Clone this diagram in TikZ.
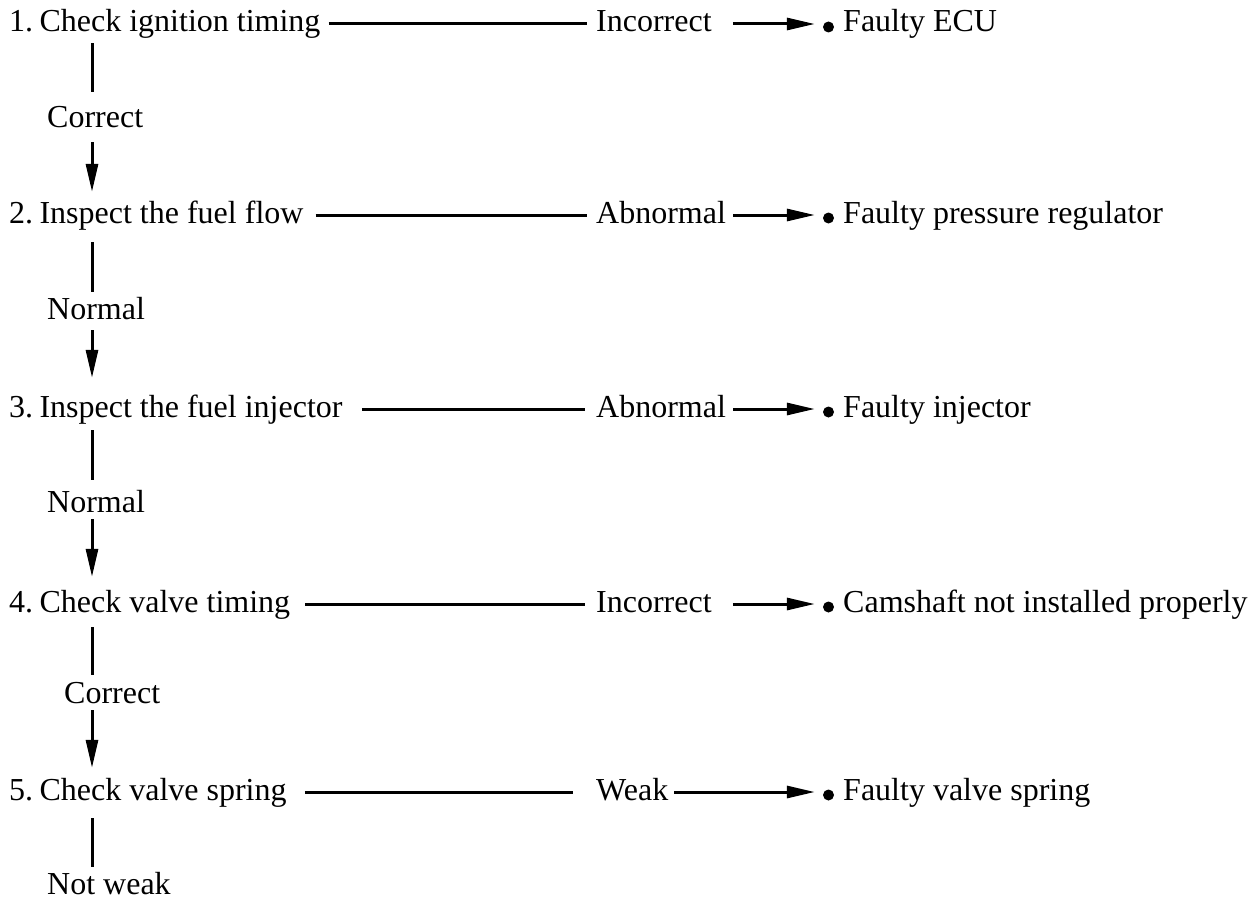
\documentclass[tikz,border=0pt]{standalone}
\usepackage{fontspec}
\setmainfont{Liberation Serif}
\usetikzlibrary{arrows.meta}
\begin{document}
\begin{tikzpicture}[x=1pt,y=-1pt,
  txt/.style={font=\fontsize{32}{38}\selectfont, inner sep=0pt, anchor=base west, text height=23pt, text depth=7pt},
  conn/.style={line width=3pt},
  arr/.style={line width=3pt, -{Triangle[length=28pt,width=12pt]}},
  bul/.style={circle, fill=black, inner sep=0pt, minimum size=11pt},
]
\useasboundingbox (0,0) rectangle (1257,899);
\coordinate (col) at (92,0);

% row 1
\node[txt] (s1) at (9,32) {1.\hspace{0.2em}Check ignition timing};
\node[txt] (l1) at (596,32) {Incorrect};
\node[bul] (d1) at (828.5,27) {};
\node[txt] (r1) at (843,32) {Faulty ECU};
% row 2
\node[txt] (s2) at (9,223) {2.\hspace{0.2em}Inspect the fuel flow};
\node[txt] (l2) at (596,223) {Abnormal};
\node[bul] (d2) at (828.5,218) {};
\node[txt] (r2) at (843,223) {Faulty pressure regulator};
% row 3
\node[txt] (s3) at (9,417) {3.\hspace{0.2em}Inspect the fuel injector};
\node[txt] (l3) at (596,417) {Abnormal};
\node[bul] (d3) at (828.5,412) {};
\node[txt] (r3) at (843,417) {Faulty injector};
% row 4
\node[txt] (s4) at (9,612) {4.\hspace{0.2em}Check valve timing};
\node[txt] (l4) at (596,612) {Incorrect};
\node[bul] (d4) at (828.5,607) {};
\node[txt] (r4) at (843,612) {Camshaft not installed properly};
% row 5
\node[txt] (s5) at (9,800) {5.\hspace{0.2em}Check valve spring};
\node[txt] (l5) at (596,800) {Weak};
\node[bul] (d5) at (828.5,795) {};
\node[txt] (r5) at (843,800) {Faulty valve spring};

% vertical labels
\node[txt] (c1) at (47,127) {Correct};
\node[txt] (c2) at (47,319) {Normal};
\node[txt] (c3) at (47,512) {Normal};
\node[txt] (c4) at (64,703) {Correct};
\node[txt, text depth=1pt] (c5) at (47,894) {Not weak};

% horizontal connectors
\draw[conn, shorten <=8pt, shorten >=9pt] (s1.east) -- (l1.west);
\draw[arr, shorten <=21pt, shorten >=8pt] (l1.east) -- (d1.west |- l1.east);
\draw[conn, shorten <=12pt, shorten >=9pt] (s2.east) -- (l2.west);
\draw[arr, shorten <=7pt, shorten >=8pt] (l2.east) -- (d2.west |- l2.east);
\draw[conn, shorten <=19pt, shorten >=11pt] (s3.east) -- (l3.west);
\draw[arr, shorten <=7pt, shorten >=8pt] (l3.east) -- (d3.west |- l3.east);
\draw[conn, shorten <=15pt, shorten >=11pt] (s4.east) -- (l4.west);
\draw[arr, shorten <=21pt, shorten >=8pt] (l4.east) -- (d4.west |- l4.east);
\draw[conn, shorten <=18pt, shorten >=23pt] (s5.east) -- (l5.west);
\draw[arr, shorten <=6pt, shorten >=8pt] (l5.east) -- (d5.west |- l5.east);

% vertical connectors
\draw[conn, shorten <=4pt, shorten >=12pt] (s1.south -| col) -- (c1.north -| col);
\draw[arr, shorten <=8pt, shorten >=8pt] (c1.south -| col) -- (s2.north -| col);
\draw[conn, shorten <=12pt, shorten >=4pt] (s2.south -| col) -- (c2.north -| col);
\draw[arr, shorten <=4pt, shorten >=16pt] (c2.south -| col) -- (s3.north -| col);
\draw[conn, shorten <=6pt, shorten >=9pt] (s3.south -| col) -- (c3.north -| col);
\draw[arr, shorten <=0pt, shorten >=12pt] (c3.south -| col) -- (s4.north -| col);
\draw[conn, shorten <=8pt, shorten >=5pt] (s4.south -| col) -- (c4.north -| col);
\draw[arr, shorten <=0pt, shorten >=9pt] (c4.south -| col) -- (s5.north -| col);
\draw[conn, shorten <=11pt, shorten >=4pt] (s5.south -| col) -- (c5.north -| col);
\end{tikzpicture}
\end{document}
